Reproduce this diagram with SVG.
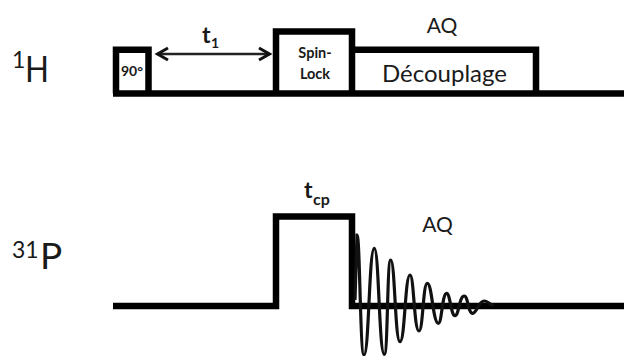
<svg xmlns="http://www.w3.org/2000/svg" width="624" height="356" viewBox="0 0 624 356">
<style>
text{font-family:Lato,"Open Sans","Liberation Sans",sans-serif;fill:#1a1a1a}
.w{fill:none;stroke:#000;stroke-width:6.5;stroke-linejoin:miter}
.fid{fill:none;stroke:#111;stroke-width:3.2}
.b{font-weight:700}
</style>
<defs>
<marker id="ah" markerWidth="16" markerHeight="16" refX="13" refY="8" orient="auto-start-reverse" markerUnits="userSpaceOnUse"><path d="M2 2L12.5 8L2 14" fill="none" stroke="#111" stroke-width="3"/></marker>
</defs>
<g id="connectors">
<path id="h-waveform" class="w" d="M113 93.5H624M116 93.5V49.7H148.5V93.5M276 93.5V31.5H352V93.5M352 49.7H536V93.5"/>
<path id="p-waveform" class="w" d="M113 306H276V216.5H352V306H624"/>
<path id="fid" class="fid" d="M355 300L357 235C360 235 360 355 364 355C369 355 369 248.3 374.3 248.3C379 248.3 379 354.3 384.3 354.3C388 354.3 387 260 390.7 260C395 260 395 341.7 400 341.7C405 341.7 405 275 410 275C414 275 414 331 419 331C423 331 423 283.3 427.3 283.3C432 283.3 433 323.3 438.3 323.3C442 323.3 442 293.3 446.7 293.3C450 293.3 451 315.7 455 315.7C459 315.7 459 296 464.3 296C468 296 468 313.3 472.7 313.3C477 313.3 478 301 484.3 301C488 301 489 305 494 305"/>
<path id="t1-arrow" d="M157 54H270" fill="none" stroke="#222" stroke-width="2.6" marker-start="url(#ah)" marker-end="url(#ah)"/>
</g>
<g id="label-1H"><text x="12" y="68" font-size="23">1</text><text x="25" y="82" font-size="37" textLength="24" lengthAdjust="spacingAndGlyphs">H</text></g>
<g id="label-31P"><text x="12" y="258" font-size="23">31</text><text x="40" y="269" font-size="37">P</text></g>
<g id="node-90"><text x="132" y="75.5" font-size="14" class="b" text-anchor="middle">90°</text></g>
<g id="node-t1"><text x="202" y="43" font-size="23" class="b">t</text><text x="211" y="48" font-size="14" class="b">1</text></g>
<g id="node-spinlock"><text x="315" y="58" font-size="14.5" class="b" text-anchor="middle">Spin-</text><text x="315" y="79" font-size="14.5" class="b" text-anchor="middle">Lock</text></g>
<g id="node-aq-top"><text x="442" y="33" font-size="21" text-anchor="middle">AQ</text></g>
<g id="node-decouplage"><text x="444.5" y="82" font-size="24" text-anchor="middle">Découplage</text></g>
<g id="node-tcp"><text x="304" y="198" font-size="23" class="b">t</text><text x="313" y="205" font-size="16" class="b">cp</text></g>
<g id="node-aq-bottom"><text x="437.5" y="232" font-size="21" text-anchor="middle">AQ</text></g>
</svg>
